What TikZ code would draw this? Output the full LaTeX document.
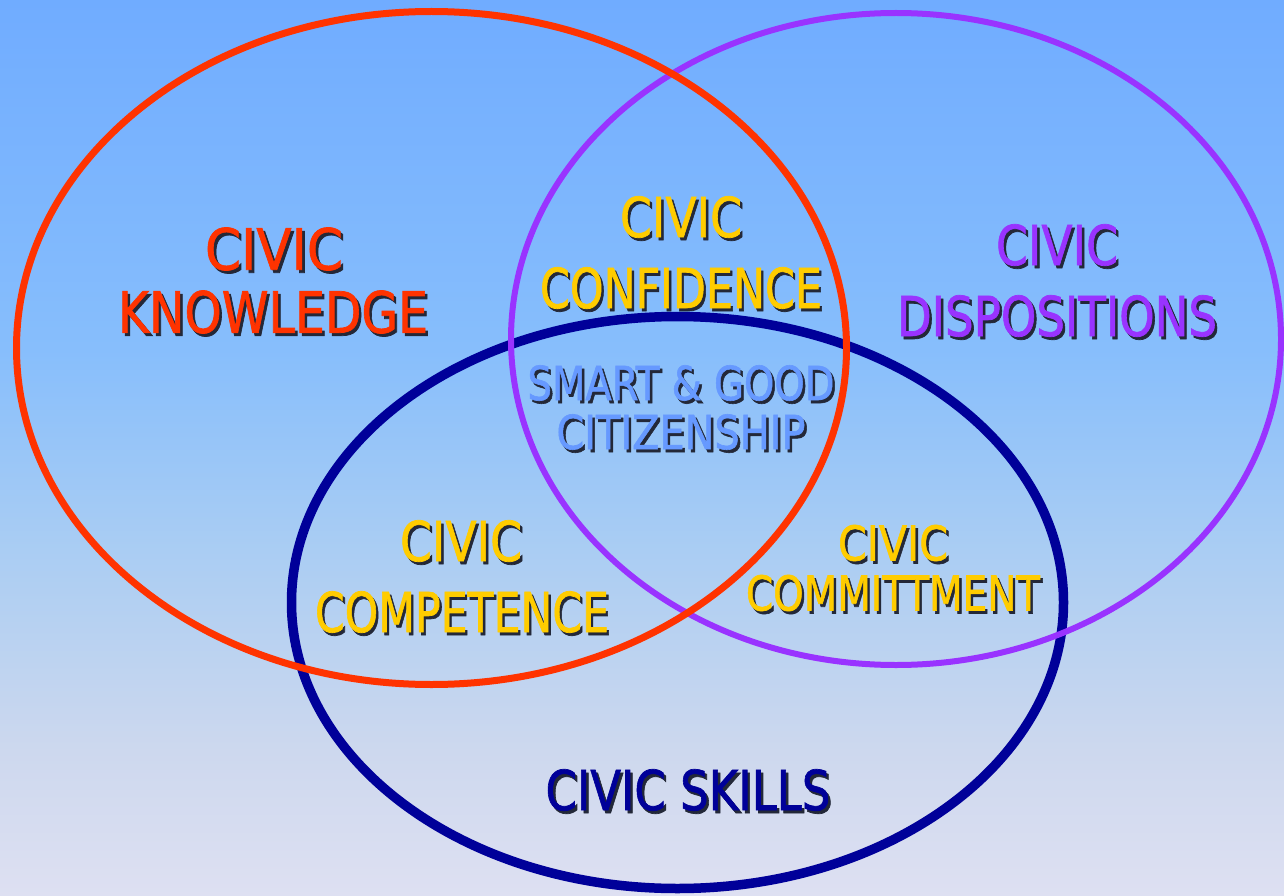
\documentclass[tikz,border=0pt]{standalone}
\usepackage{fontspec}
\setmainfont{DejaVu Sans}
\newfontfamily\heavyface[FakeBold=1.3]{DejaVu Sans}
\usepackage{graphicx}
\definecolor{redc}{HTML}{FF3300}
\definecolor{purc}{HTML}{9933FF}
\definecolor{navyc}{HTML}{000099}
\definecolor{goldc}{HTML}{FFCC00}
\definecolor{smartc}{HTML}{6699FF}
\definecolor{shadowc}{HTML}{232838}
\definecolor{bgA}{RGB}{222,224,242}
\definecolor{bgB}{RGB}{205,216,238}
\definecolor{bgC}{RGB}{170,205,243}
\definecolor{bgD}{RGB}{135,190,252}
\definecolor{bgE}{RGB}{112,172,255}
\pgfdeclareverticalshading{skyshade}{100bp}{%
  color(0bp)=(bgA); color(25bp)=(bgA); color(33.1bp)=(bgB);
  color(44.3bp)=(bgC); color(55.5bp)=(bgD); color(75bp)=(bgE); color(100bp)=(bgE)}
\tikzset{
  ring/.style={line width=#1},
  lbl/.style={inner sep=0pt, outer sep=0pt, anchor=center},
}
% text with a dark drop shadow offset down and to the right
\newcommand\shadowed[2]{%
  \rlap{\smash{\raisebox{-3pt}{\hspace*{3pt}\textcolor{shadowc}{#2}}}}\textcolor{#1}{#2}}
% one label line
% #1 name, #2 x, #3 y, #4 colour, #5 font size, #6 width, #7 text
\newcommand\civicline[7]{%
  \node[lbl] (#1) at (#2,#3)
    {\heavyface\fontsize{#5}{#5}\selectfont\resizebox{#6pt}{\height}{\shadowed{#4}{#7}}};}
\begin{document}
\begin{tikzpicture}[x=1pt,y=-1pt]
  \useasboundingbox (0,0) rectangle (1284,896);
  \fill[shading=skyshade] (0,0) rectangle (1284,896);

  % the three circles of civic education
  \draw[navyc, ring=9.5pt] (677.5,602.5) ellipse [x radius=386pt, y radius=286pt];
  \draw[purc, ring=6pt] (896,339) ellipse [x radius=385pt, y radius=326pt];
  \draw[redc, ring=7pt] (431.5,348) ellipse [x radius=415pt, y radius=336.5pt];

  % outer fields
  \civicline{knowA}{274}{249}{redc}{57}{138}{CIVIC}
  \civicline{knowB}{273}{312}{redc}{57}{310}{KNOWLEDGE}
  \civicline{dispA}{1057}{245}{purc}{55}{122}{CIVIC}
  \civicline{dispB}{1057}{316}{purc}{55}{320}{DISPOSITIONS}
  \civicline{skill}{688}{790}{navyc}{55}{285}{CIVIC SKILLS}

  % overlaps
  \civicline{confA}{681}{217}{goldc}{55}{122}{CIVIC}
  \civicline{confB}{681}{288}{goldc}{55}{282}{CONFIDENCE}
  \civicline{compA}{461}{541}{goldc}{55}{122}{CIVIC}
  \civicline{compB}{462}{612}{goldc}{55}{294}{COMPETENCE}
  \civicline{commA}{893}{543}{goldc}{48}{110}{CIVIC}
  \civicline{commB}{893}{593}{goldc}{48}{294}{COMMITTMENT}

  % centre
  \civicline{goodA}{681}{383}{smartc}{47}{307}{SMART \& GOOD}
  \civicline{goodB}{681}{432}{smartc}{47}{249}{CITIZENSHIP}
\end{tikzpicture}
\end{document}
